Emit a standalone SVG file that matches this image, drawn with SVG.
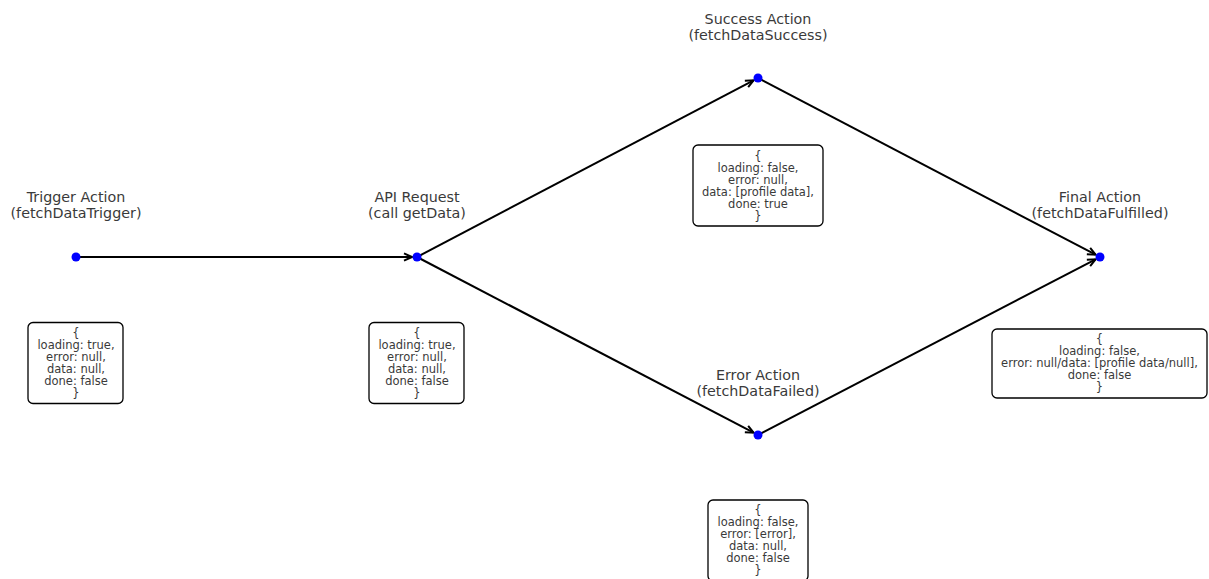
<svg xmlns="http://www.w3.org/2000/svg" width="1209" height="579" viewBox="0 0 1209 579">
<style>
.title{font-family:"DejaVu Sans",sans-serif;font-size:14.3px;fill:#3a3a3a;text-anchor:middle}
.state{font-family:"DejaVu Sans",sans-serif;font-size:11.5px;fill:#3a3a3a;text-anchor:middle}
.box{fill:#ffffff;stroke:#000000;stroke-width:1.3}
.edge{stroke:#000000;stroke-width:2;fill:none;marker-end:url(#arr)}
.dot{fill:#0000ff}
</style>
<defs>
<marker id="arr" markerUnits="userSpaceOnUse" markerWidth="12" markerHeight="12" viewBox="-10 -6 12 12" refX="0" refY="0" orient="auto">
<path d="M-8,-3.6 L0,0 L-8,3.6" fill="none" stroke="#000000" stroke-width="2"/>
</marker>
</defs>
<rect width="1209" height="579" fill="#ffffff"/>
<g id="connectors">
<line class="edge" x1="76" y1="257" x2="412" y2="257"/>
<line class="edge" x1="417" y1="257" x2="753.6" y2="80.3"/>
<line class="edge" x1="417" y1="257" x2="753.6" y2="432.7"/>
<line class="edge" x1="758" y1="78" x2="1095.6" y2="254.7"/>
<line class="edge" x1="758" y1="435" x2="1095.6" y2="259.3"/>
</g>
<g id="trigger">
<text class="title" x="76" y="202">Trigger Action<tspan x="76" dy="16">(fetchDataTrigger)</tspan></text>
<circle class="dot" cx="76" cy="257" r="4.5"/>
<rect class="box" x="28" y="322.5" width="95" height="81" rx="5"/>
<text class="state" x="76" y="337">{<tspan x="76" dy="12">loading: true,</tspan><tspan x="76" dy="12">error: null,</tspan><tspan x="76" dy="12">data: null,</tspan><tspan x="76" dy="12">done: false</tspan><tspan x="76" dy="12">}</tspan></text>
</g>
<g id="api">
<text class="title" x="417" y="202">API Request<tspan x="417" dy="16">(call getData)</tspan></text>
<circle class="dot" cx="417" cy="257" r="4.5"/>
<rect class="box" x="369" y="322.5" width="95" height="81" rx="5"/>
<text class="state" x="417" y="337">{<tspan x="417" dy="12">loading: true,</tspan><tspan x="417" dy="12">error: null,</tspan><tspan x="417" dy="12">data: null,</tspan><tspan x="417" dy="12">done: false</tspan><tspan x="417" dy="12">}</tspan></text>
</g>
<g id="success">
<text class="title" x="758" y="23.5">Success Action<tspan x="758" dy="16">(fetchDataSuccess)</tspan></text>
<circle class="dot" cx="758" cy="78" r="4.5"/>
<rect class="box" x="693" y="145" width="130" height="81" rx="5"/>
<text class="state" x="758" y="159.5">{<tspan x="758" dy="12">loading: false,</tspan><tspan x="758" dy="12">error: null,</tspan><tspan x="758" dy="12">data: [profile data],</tspan><tspan x="758" dy="12">done: true</tspan><tspan x="758" dy="12">}</tspan></text>
</g>
<g id="error">
<text class="title" x="758" y="380">Error Action<tspan x="758" dy="16">(fetchDataFailed)</tspan></text>
<circle class="dot" cx="758" cy="435" r="4.5"/>
<rect class="box" x="708" y="500" width="100" height="81" rx="5"/>
<text class="state" x="758" y="514">{<tspan x="758" dy="12">loading: false,</tspan><tspan x="758" dy="12">error: [error],</tspan><tspan x="758" dy="12">data: null,</tspan><tspan x="758" dy="12">done: false</tspan><tspan x="758" dy="12">}</tspan></text>
</g>
<g id="final">
<text class="title" x="1100" y="202">Final Action<tspan x="1100" dy="16">(fetchDataFulfilled)</tspan></text>
<circle class="dot" cx="1100" cy="257" r="4.5"/>
<rect class="box" x="992" y="329" width="215" height="69" rx="5"/>
<text class="state" x="1099.5" y="343">{<tspan x="1099.5" dy="12">loading: false,</tspan><tspan x="1099.5" dy="12">error: null/data: [profile data/null],</tspan><tspan x="1099.5" dy="12">done: false</tspan><tspan x="1099.5" dy="12">}</tspan></text>
</g>
</svg>
